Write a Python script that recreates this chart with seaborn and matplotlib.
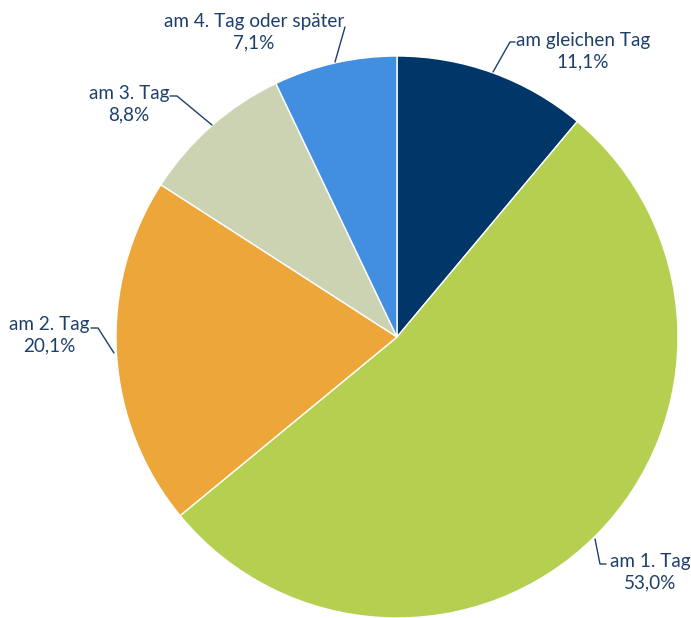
import matplotlib
matplotlib.use("Agg")
import matplotlib.pyplot as plt
import seaborn as sns

categories = ["am gleichen Tag", "am 1. Tag", "am 2. Tag", "am 3. Tag", "am 4. Tag oder später"]
values = [11.1, 53.0, 20.1, 8.8, 7.1]
value_labels = ["11,1%", "53,0%", "20,1%", "8,8%", "7,1%"]
colors = ["#003768", "#B5CF51", "#EDA63A", "#CCD3B3", "#428EE0"]

sns.set_theme(style="white")
plt.rcParams['font.family'] = ['Lato', 'DejaVu Sans']

W, H = 691, 618
fig = plt.figure(figsize=(W / 100, H / 100), dpi=100)
ax = fig.add_axes([0, 0, 1, 1])

cx, cy, r = 397, H - 337, 281
ax.pie(values, colors=colors, startangle=90, counterclock=False,
       center=(cx, cy), radius=r, frame=True,
       wedgeprops=dict(edgecolor="white", linewidth=1.0))
ax.set_xlim(0, W)
ax.set_ylim(0, H)
ax.set_aspect('equal')
ax.axis('off')

txt_color = "#1F3F6B"
# label text positions (pixel coords, y from top) and leader paths
specs = [
    (583, 51, [(493, 72), (510, 42), (515, 42)]),
    (650, 572, [(595, 539), (600, 564), (606, 564)]),
    (49, 335, [(114, 353), (98, 328), (91, 328)]),
    (129, 104, [(212, 125), (177, 96), (170, 96)]),
    (254, 32, [(335, 62), (345, 27)]),
]
for (tx, ty, path), cat, vl in zip(specs, categories, value_labels):
    ax.text(tx, H - ty, f"{cat}\n{vl}", ha="center", va="center",
            fontsize=13.6, color=txt_color, linespacing=1.3)
    xs = [p[0] for p in path]
    ys = [H - p[1] for p in path]
    ax.plot(xs, ys, color=txt_color, linewidth=1.0)

fig.savefig("out.png", dpi=100)
